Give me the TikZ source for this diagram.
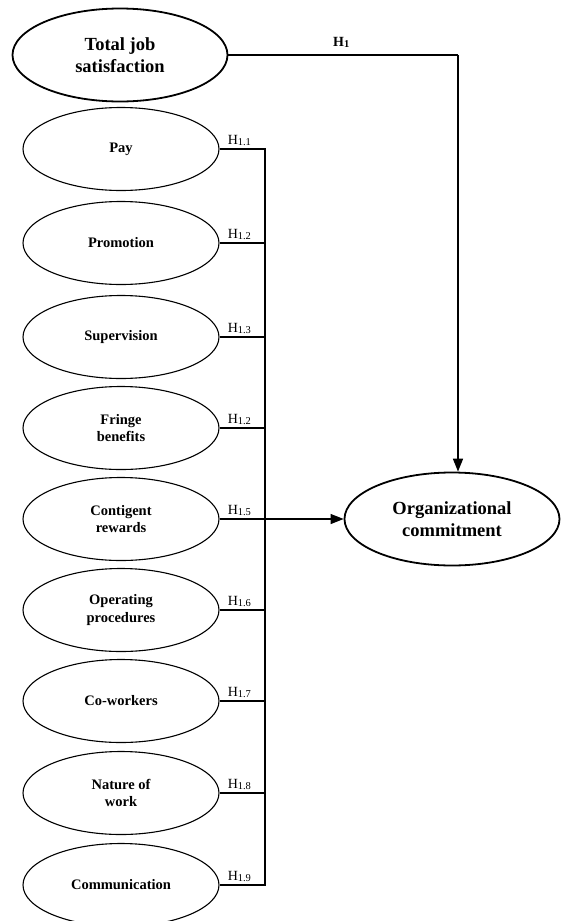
\documentclass[tikz,border=0pt]{standalone}
\usepackage{fontspec}
\setmainfont{Liberation Serif}
\usetikzlibrary{shapes.geometric,arrows.meta}
\tikzset{
  small/.style={ellipse, draw, line width=1.1pt, minimum width=196pt, minimum height=83pt, inner sep=0pt,
     align=center, font=\fontsize{14.5}{17.5}\selectfont\bfseries},
  big/.style={ellipse, draw, line width=1.8pt, minimum width=215pt, minimum height=93pt, inner sep=0pt,
     align=center, font=\fontsize{18.5}{21.7}\selectfont\bfseries},
  thin/.style={line width=1.1pt},
  thick2/.style={line width=1.7pt},
  hlab/.style={anchor=south west, inner sep=0pt, font=\fontsize{14}{14}\selectfont},
  tip/.style={-{Triangle[length=13pt,width=10pt]}}
}
\newcommand{\hsub}[1]{H\raisebox{-1.2pt}{\fontsize{10.5}{10.5}\selectfont #1}}
\begin{document}
\begin{tikzpicture}[x=1pt,y=-1pt]
\useasboundingbox (0,0) rectangle (561,921);
\node[big] (tj) at (120,55) {Total job\\satisfaction};
\node[big] (org) at (452,519) {Organizational\\commitment};
\node[small] (c1) at (121,149) {Pay};
\node[small] (c2) at (121,243) {Promotion};
\node[small] (c3) at (121,337) {Supervision};
\node[small] (c4) at (121,428) {Fringe\\benefits};
\node[small] (c5) at (121,519) {Contigent\\rewards};
\node[small] (c6) at (121,610) {Operating\\procedures};
\node[small] (c7) at (121,701) {Co-workers};
\node[small] (c8) at (121,793) {Nature of\\work};
\node[small] (c9) at (121,885) {Communication};
\coordinate (bustop) at (265,149);
\coordinate (busbot) at (265,885);
\coordinate (corner) at (458,55);
% H1 path
\draw[thick2] (tj.east) -- (corner);
\draw[thick2,tip] (corner) -- (corner |- org.north);
\node[anchor=south west, inner sep=0pt, font=\fontsize{14}{14}\selectfont\bfseries] (h1) at (333,48) {H\raisebox{-1.2pt}{\fontsize{10.5}{10.5}\selectfont 1}};
% bus
\draw[thin] (c1.east) -- (bustop) -- (busbot) -- (c9.east);
\foreach \i in {2,...,8} { \draw[thin] (c\i.east) -- (c\i.east -| bustop); }
\draw[thin,tip] (c5.east) -- (c5.east -| org.west);
% labels
\node[hlab] (l1) at ([xshift=8pt,yshift=3pt]c1.east) {\hsub{1.1}};
\node[hlab] (l2) at ([xshift=8pt,yshift=3pt]c2.east) {\hsub{1.2}};
\node[hlab] (l3) at ([xshift=8pt,yshift=3pt]c3.east) {\hsub{1.3}};
\node[hlab] (l4) at ([xshift=8pt,yshift=3pt]c4.east) {\hsub{1.2}};
\node[hlab] (l5) at ([xshift=8pt,yshift=3pt]c5.east) {\hsub{1.5}};
\node[hlab] (l6) at ([xshift=8pt,yshift=3pt]c6.east) {\hsub{1.6}};
\node[hlab] (l7) at ([xshift=8pt,yshift=3pt]c7.east) {\hsub{1.7}};
\node[hlab] (l8) at ([xshift=8pt,yshift=3pt]c8.east) {\hsub{1.8}};
\node[hlab] (l9) at ([xshift=8pt,yshift=3pt]c9.east) {\hsub{1.9}};
\end{tikzpicture}
\end{document}
